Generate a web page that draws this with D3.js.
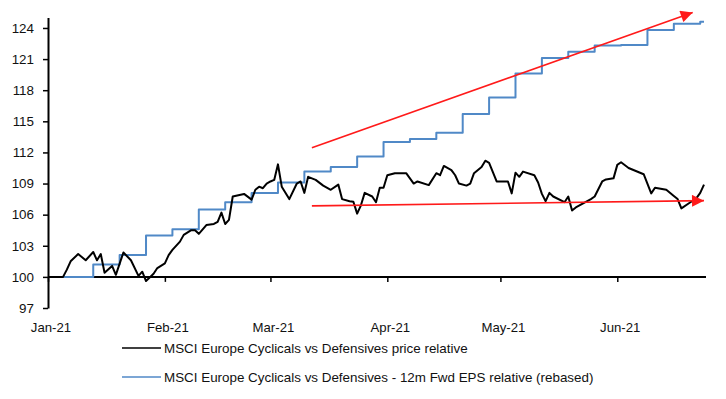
<!DOCTYPE html>
<html>
<head>
<meta charset="utf-8">
<script src="https://cdn.jsdelivr.net/npm/d3@7/dist/d3.min.js"></script>
<style>
  html, body { margin: 0; padding: 0; background: #fff; }
  svg { display: block; font-family: "Liberation Sans", Arial, sans-serif; }
</style>
</head>
<body>
<svg id="chart" width="726" height="399"></svg>
<script>
// ---- Data ----
const monthTicks = ["2021-01-01","2021-02-01","2021-03-01","2021-04-01","2021-05-01","2021-06-01"];
const monthLabels = ["Jan-21","Feb-21","Mar-21","Apr-21","May-21","Jun-21"];
const yTickValues = [97,100,103,106,109,112,115,118,121,124];

const seriesNames = [
  "MSCI Europe Cyclicals vs Defensives price relative",
  "MSCI Europe Cyclicals vs Defensives - 12m Fwd EPS relative (rebased)"
];

// Price relative (black)
const priceDates = [
  "2021-01-01","2021-01-05","2021-01-06","2021-01-07","2021-01-09","2021-01-11","2021-01-13","2021-01-14","2021-01-15","2021-01-16",
  "2021-01-18","2021-01-19","2021-01-21","2021-01-23","2021-01-25","2021-01-26","2021-01-27","2021-01-29","2021-01-30","2021-02-01",
  "2021-02-02","2021-02-03","2021-02-05","2021-02-06","2021-02-08","2021-02-09","2021-02-10","2021-02-12","2021-02-14","2021-02-15",
  "2021-02-16","2021-02-17","2021-02-18","2021-02-19","2021-02-22","2021-02-24","2021-02-25","2021-02-26","2021-02-27","2021-02-28",
  "2021-03-01","2021-03-02","2021-03-03","2021-03-04","2021-03-06","2021-03-08","2021-03-09","2021-03-10","2021-03-11","2021-03-13",
  "2021-03-15","2021-03-17","2021-03-19","2021-03-20","2021-03-22","2021-03-23","2021-03-24","2021-03-25","2021-03-26","2021-03-28",
  "2021-03-29","2021-03-30","2021-03-31","2021-04-01","2021-04-03","2021-04-06","2021-04-07","2021-04-08","2021-04-09","2021-04-12",
  "2021-04-14","2021-04-15","2021-04-16","2021-04-18","2021-04-19","2021-04-20","2021-04-22","2021-04-23","2021-04-24","2021-04-26",
  "2021-04-27","2021-04-28","2021-04-30","2021-05-03","2021-05-04","2021-05-05","2021-05-06","2021-05-07","2021-05-10","2021-05-11",
  "2021-05-12","2021-05-13","2021-05-14","2021-05-15","2021-05-18","2021-05-19","2021-05-20","2021-05-21","2021-05-25","2021-05-26",
  "2021-05-28","2021-05-29","2021-05-31","2021-06-01","2021-06-02","2021-06-04","2021-06-08","2021-06-10","2021-06-11","2021-06-14",
  "2021-06-16","2021-06-17","2021-06-18","2021-06-20","2021-06-22","2021-06-23","2021-06-24"
];
const priceValues = [
  100.0,100.0,100.7,101.5,102.2,101.6,102.4,101.6,102.2,100.4,
  101.06,100.2,102.35,101.6,100.1,100.5,99.6,100.3,100.85,101.3,
  102.1,102.6,103.4,104.05,104.5,104.5,104.15,105.0,105.1,105.3,
  106.2,105.1,105.5,107.75,108.0,107.45,108.4,108.7,108.55,109.0,
  109.2,109.35,110.85,108.7,107.5,109.0,109.2,108.1,109.65,109.35,
  108.8,108.4,108.9,107.5,107.3,107.25,106.1,106.9,108.1,107.75,
  107.2,108.6,108.6,109.8,110.0,110.0,109.5,109.0,109.2,108.85,
  110.0,109.8,110.7,110.3,109.8,109.0,108.8,109.0,110.0,110.6,
  111.2,111.0,109.2,109.2,108.05,110.05,109.65,110.15,109.8,109.1,
  108.0,107.3,108.1,107.75,107.2,107.75,106.4,106.7,107.5,107.75,
  109.2,109.4,109.5,110.8,111.05,110.5,109.9,108.05,108.6,108.4,
  107.8,107.5,106.6,107.1,107.6,108.1,108.9
];

// 12m Fwd EPS relative (blue) – weekly step values
const epsDates = [
  "2021-01-01","2021-01-13","2021-01-20","2021-01-27","2021-02-03","2021-02-10","2021-02-17","2021-02-24",
  "2021-03-03","2021-03-10","2021-03-17","2021-03-24","2021-03-31","2021-04-07","2021-04-14","2021-04-21",
  "2021-04-28","2021-05-05","2021-05-12","2021-05-19","2021-05-26","2021-06-02","2021-06-09","2021-06-16",
  "2021-06-23","2021-06-24"
];
const epsValues = [
  100.0,101.2,102.1,104.0,104.6,106.5,107.2,108.1,
  109.1,110.15,110.6,111.6,113.0,113.3,113.9,115.7,
  117.3,119.6,121.1,121.7,122.3,122.35,123.8,124.4,
  124.6,124.6
];

// Trend arrows (annotation): start/end dates and values
const arrowStartDates = ["2021-03-12","2021-03-12"];
const arrowStartValues = [112.45,106.85];
const arrowEndDates = ["2021-06-21","2021-06-24"];
const arrowEndValues = [125.5,107.35];

// ---- Drawing ----
const parse = d3.timeParse("%Y-%m-%d");
const svg = d3.select("#chart");

const x = d3.scaleTime()
  .domain([parse("2021-01-01"), parse("2021-06-24")])
  .range([48, 704]);
const y = d3.scaleLinear().domain([97, 125]).range([308, 17.6]);

const price = priceDates.map((d, i) => ({ date: parse(d), value: priceValues[i] }));
const eps = epsDates.map((d, i) => ({ date: parse(d), value: epsValues[i] }));

// Y axis
const yAxis = svg.append("g")
  .attr("transform", "translate(48,0)")
  .call(d3.axisLeft(y).tickValues(yTickValues).tickSize(5).tickSizeOuter(0).tickPadding(9).tickFormat(d3.format("d")));
yAxis.select(".domain").attr("stroke", "#000").attr("stroke-width", 2);
yAxis.selectAll(".tick line").attr("stroke", "#000").attr("stroke-width", 1.5);
yAxis.selectAll(".tick text").attr("font-size", 13.4).attr("fill", "#111")
  .attr("font-family", "'Liberation Sans', Arial, sans-serif");

// X axis at y=100
const xAxis = svg.append("g")
  .attr("transform", `translate(0,${y(100)})`)
  .call(d3.axisBottom(x).tickValues(monthTicks.map(parse)).tickSize(5).tickSizeOuter(0).tickFormat(""));
xAxis.select(".domain").attr("stroke", "#000").attr("stroke-width", 2)
  .attr("d", `M48,0H706`);
xAxis.selectAll(".tick line").attr("stroke", "#000").attr("stroke-width", 1.5);

// Month labels
svg.append("g").selectAll("text")
  .data(monthTicks)
  .join("text")
  .attr("x", (d) => x(parse(d)) + 3)
  .attr("y", 332)
  .attr("text-anchor", "middle")
  .attr("font-size", 13.2)
  .attr("fill", "#111")
  .text((d, i) => monthLabels[i]);

// Lines
const line = d3.line().x(d => x(d.date)).y(d => y(d.value));
const stepLine = d3.line().x(d => x(d.date)).y(d => y(d.value)).curve(d3.curveStepAfter);

const blue = "#5089c7";
svg.append("path").datum(eps)
  .attr("d", stepLine).attr("fill", "none").attr("stroke", blue).attr("stroke-width", 2)
  .attr("stroke-linejoin", "round");
svg.append("path").datum(price)
  .attr("d", line).attr("fill", "none").attr("stroke", "#000").attr("stroke-width", 2)
  .attr("stroke-linejoin", "round");

// Arrows
const defs = svg.append("defs");
defs.append("marker")
  .attr("id", "arrowhead")
  .attr("viewBox", "0 0 10 10")
  .attr("refX", 10).attr("refY", 5)
  .attr("markerUnits", "userSpaceOnUse")
  .attr("markerWidth", 15).attr("markerHeight", 12)
  .attr("orient", "auto")
  .append("path").attr("d", "M0,0L10,5L0,10Z").attr("fill", "#ff1a1a");

svg.append("g").selectAll("line")
  .data(arrowStartDates)
  .join("line")
  .attr("x1", (d) => x(parse(d)))
  .attr("y1", (d, i) => y(arrowStartValues[i]))
  .attr("x2", (d, i) => x(parse(arrowEndDates[i])))
  .attr("y2", (d, i) => y(arrowEndValues[i]))
  .attr("stroke", "#ff1a1a").attr("stroke-width", 1.6)
  .attr("marker-end", "url(#arrowhead)");

// Legend
const legend = svg.append("g");
const legendColors = ["#000", blue];
const legendY = [348, 377];
seriesNames.forEach((name, i) => {
  legend.append("line")
    .attr("x1", 122).attr("x2", 161)
    .attr("y1", legendY[i]).attr("y2", legendY[i])
    .attr("stroke", legendColors[i]).attr("stroke-width", 1.5);
  legend.append("text")
    .attr("x", 164).attr("y", legendY[i] + 4.6)
    .attr("font-size", 13.4).attr("fill", "#111")
    .text(name);
});
</script>
</body>
</html>
